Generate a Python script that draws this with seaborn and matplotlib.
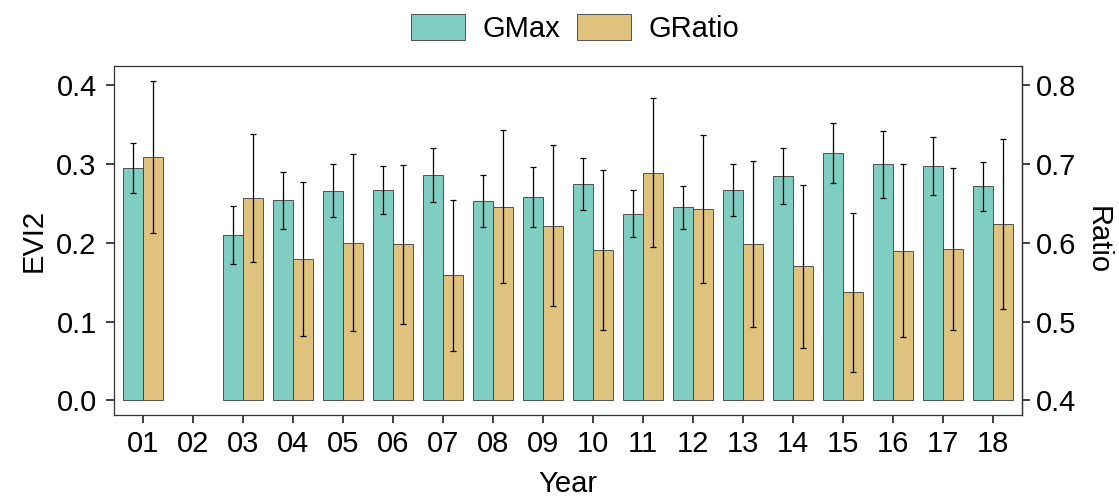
import numpy as np
import pandas as pd
import matplotlib
matplotlib.use("Agg")
import matplotlib.pyplot as plt
import seaborn as sns

# Yearly mean and standard deviation of the two greenness metrics
years = ["01", "02", "03", "04", "05", "06", "07", "08", "09",
         "10", "11", "12", "13", "14", "15", "16", "17", "18"]
gmax = [0.295, np.nan, 0.210, 0.254, 0.266, 0.267, 0.286, 0.253, 0.258,
        0.275, 0.237, 0.245, 0.267, 0.285, 0.314, 0.300, 0.297, 0.272]
gmax_sd = [0.0315, np.nan, 0.0366, 0.0363, 0.0338, 0.0304, 0.0338, 0.0326, 0.038,
           0.0332, 0.0296, 0.0277, 0.033, 0.0353, 0.0376, 0.0425, 0.0368, 0.0311]
gratio = [0.709, np.nan, 0.657, 0.580, 0.600, 0.598, 0.559, 0.646, 0.622,
          0.591, 0.689, 0.643, 0.599, 0.570, 0.537, 0.590, 0.592, 0.624]
gratio_sd = [0.0964, np.nan, 0.0815, 0.0978, 0.1124, 0.1004, 0.096, 0.097, 0.102,
             0.1016, 0.0945, 0.0938, 0.1055, 0.1033, 0.1008, 0.110, 0.1029, 0.1076]

series = ["GMax", "GRatio"]
colors = ["#80CDC1", "#DFC27D"]
ratio_offset = 0.4  # Ratio axis = EVI2 axis + 0.4
FS = 21


def to_ratio(y):
    return y + ratio_offset


def from_ratio(r):
    return r - ratio_offset


rows = []
for yr, gm, gms, gr, grs in zip(years, gmax, gmax_sd, gratio, gratio_sd):
    if np.isnan(gm):
        continue
    rows.append({"Year": yr, "Series": "GMax", "value": gm, "sd": gms})
    rows.append({"Year": yr, "Series": "GRatio", "value": from_ratio(gr), "sd": grs})
df = pd.DataFrame(rows)

sns.set_theme(style="ticks")
plt.rcParams["font.family"] = ["Liberation Sans", "DejaVu Sans"]
plt.rcParams["font.size"] = FS
plt.rcParams["text.color"] = "black"

fig = plt.figure(figsize=(11.19, 4.97), dpi=100)
ax = fig.add_axes([0.1019, 0.165, 0.8111, 0.7022])

bar_width = 0.8
sns.barplot(data=df, x="Year", y="value", hue="Series", order=years,
            hue_order=series, palette=colors, errorbar=None, width=bar_width,
            edgecolor="#3a3a3a", linewidth=0.6, saturation=1, ax=ax)

# Standard deviation whiskers at the dodged bar centres
half = bar_width / len(series)
for k, name in enumerate(series):
    sub = df[df["Series"] == name]
    xpos = [years.index(y) - bar_width / 2 + half * (k + 0.5) for y in sub["Year"]]
    ax.errorbar(xpos, sub["value"], yerr=sub["sd"], fmt="none",
                ecolor="black", elinewidth=0.9, capsize=1.9, capthick=0.9,
                zorder=5)

ax.set_xlim(-0.575, len(years) - 1 + 0.575)
ax.set_ylim(-0.0185, 0.4245)
ax.set_yticks([0.0, 0.1, 0.2, 0.3, 0.4])
ax.set_yticklabels(["0.0", "0.1", "0.2", "0.3", "0.4"])
ax.set_xlabel("Year", fontsize=FS, color="black", labelpad=9)
ax.set_ylabel("EVI2", fontsize=FS, color="black", labelpad=6)

for side in ["left", "right", "top", "bottom"]:
    ax.spines[side].set_visible(True)
    ax.spines[side].set_color("#333333")
    ax.spines[side].set_linewidth(0.9)

ax.tick_params(axis="both", direction="out", length=5.5, width=1.3,
               color="#333333", labelsize=FS, labelcolor="black")
ax.tick_params(axis="y", pad=7)
ax.tick_params(axis="x", pad=5)

sec = ax.secondary_yaxis("right", functions=(to_ratio, from_ratio))
sec.set_yticks([0.4, 0.5, 0.6, 0.7, 0.8])
sec.set_yticklabels(["0.4", "0.5", "0.6", "0.7", "0.8"])
sec.tick_params(axis="y", direction="out", length=5.5, width=1.3,
                color="#333333", labelsize=FS, labelcolor="black", pad=5)
sec.spines["right"].set_color("#333333")
sec.spines["right"].set_linewidth(0.9)
sec.set_ylabel("Ratio", fontsize=FS, color="black", rotation=270, labelpad=25)

sns.move_legend(ax, "center", bbox_to_anchor=(0.514, 0.942),
                bbox_transform=fig.transFigure, ncol=2, frameon=False,
                title=None, fontsize=FS, handlelength=1.83, handleheight=0.97,
                handletextpad=0.6, columnspacing=0.6)
for txt in ax.get_legend().get_texts():
    txt.set_color("black")

fig.savefig("out.png", dpi=100)
